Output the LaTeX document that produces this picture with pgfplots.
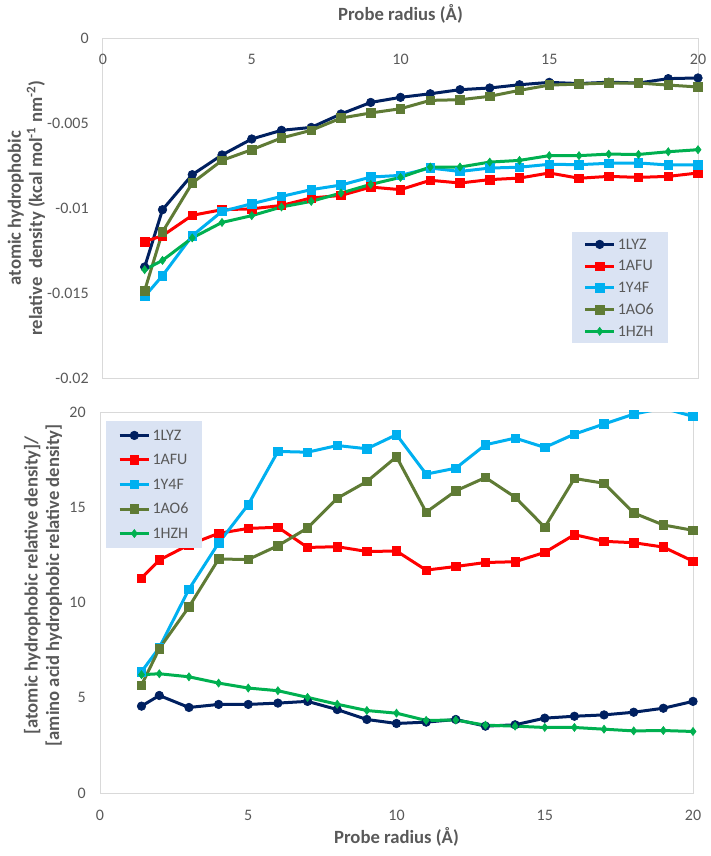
\documentclass[border=0pt]{standalone}
\usepackage{fontspec}
\setmainfont{Carlito}
\usepackage{pgfplots}
\pgfplotsset{compat=1.18}
\usepackage{pgfplotstable}

\definecolor{cLYZ}{HTML}{002060}
\definecolor{cAFU}{HTML}{FF0000}
\definecolor{cYF}{HTML}{00B0F0}
\definecolor{cAO}{HTML}{5F7B35}
\definecolor{cHZH}{HTML}{00B050}
\definecolor{txt}{HTML}{595959}
\definecolor{frame}{HTML}{D9D9D9}
\definecolor{legfill}{HTML}{DAE3F3}

\pgfplotstableread{
x LYZ AFU YF AO HZH
1.4 -0.01347 -0.01198 -0.01520 -0.01486 -0.01363
2 -0.01010 -0.01163 -0.01398 -0.01141 -0.01308
3 -0.00804 -0.01043 -0.01163 -0.00853 -0.01176
4 -0.00688 -0.01010 -0.01020 -0.00720 -0.01085
5 -0.00594 -0.01005 -0.00975 -0.00657 -0.01045
6 -0.00543 -0.00985 -0.00932 -0.00588 -0.00994
7 -0.00526 -0.00941 -0.00892 -0.00543 -0.00961
8 -0.00447 -0.00926 -0.00865 -0.00471 -0.00912
9 -0.00379 -0.00877 -0.00818 -0.00441 -0.00861
10 -0.00349 -0.00892 -0.00808 -0.00416 -0.00820
11 -0.00328 -0.00837 -0.00765 -0.00367 -0.00759
12 -0.00304 -0.00853 -0.00785 -0.00363 -0.00759
13 -0.00294 -0.00833 -0.00765 -0.00343 -0.00730
14 -0.00275 -0.00824 -0.00760 -0.00308 -0.00720
15 -0.00261 -0.00794 -0.00743 -0.00277 -0.00692
16 -0.00268 -0.00825 -0.00745 -0.00271 -0.00692
17 -0.00260 -0.00814 -0.00737 -0.00265 -0.00683
18 -0.00265 -0.00820 -0.00735 -0.00265 -0.00685
19 -0.00239 -0.00814 -0.00747 -0.00277 -0.00669
20 -0.00235 -0.00794 -0.00747 -0.00288 -0.00657
}\toptable

\pgfplotstableread{
x LYZ AFU YF AO HZH
1.4 4.56 11.28 6.37 5.66 6.21
2 5.12 12.23 7.63 7.58 6.26
3 4.49 13.03 10.70 9.77 6.10
4 4.65 13.63 13.12 12.28 5.77
5 4.65 13.89 15.14 12.26 5.51
6 4.72 13.95 17.93 12.98 5.37
7 4.81 12.89 17.89 13.91 5.02
8 4.38 12.93 18.24 15.47 4.66
9 3.86 12.68 18.07 16.35 4.33
10 3.65 12.70 18.81 17.65 4.19
11 3.72 11.70 16.74 14.74 3.81
12 3.86 11.89 17.05 15.86 3.83
13 3.51 12.10 18.28 16.56 3.56
14 3.58 12.14 18.63 15.53 3.51
15 3.93 12.63 18.14 13.95 3.44
16 4.03 13.56 18.84 16.51 3.44
17 4.10 13.21 19.37 16.26 3.35
18 4.24 13.14 19.89 14.70 3.26
19 4.45 12.91 20.20 14.07 3.28
20 4.81 12.17 19.77 13.79 3.23
}\bottable

\pgfplotsset{
  common/.style={
    scale only axis,
    xmin=0, xmax=20,
    xtick={0,5,10,15,20},
    scaled y ticks=false,
    scaled x ticks=false,
    major tick length=0pt,
    axis line style={draw=frame, line width=0.75pt},
    tick label style={font=\fontsize{12}{14}\selectfont, text=txt},
    label style={font=\fontsize{14}{16}\selectfont\bfseries, text=txt},
    yticklabel style={anchor=east, xshift=-7.25pt},
    legend cell align=left,
    legend style={draw=none, fill=legfill, font=\fontsize{12}{14}\selectfont, text=txt,
      inner xsep=9pt, inner ysep=3.5pt, row sep=5.3pt,
      nodes={inner xsep=1.5pt, inner ysep=0pt, text height=9pt, text depth=2pt}},
    legend image code/.code={\draw[mark repeat=2,mark phase=2] plot coordinates {(0pt,0pt)(11pt,0pt)(22pt,0pt)};},
    every axis plot/.append style={line width=2.25pt},
  },
  sLYZ/.style={color=cLYZ, mark=*, mark size=3.2pt, mark options={solid, line width=0.5pt}},
  sAFU/.style={color=cAFU, mark=square*, mark size=3.2pt, mark options={solid, line width=0.5pt}},
  sYF/.style={color=cYF, mark=square*, mark size=3.2pt, mark options={solid, line width=0.5pt}},
  sAO/.style={color=cAO, mark=square*, mark size=3.2pt, mark options={solid, line width=0.5pt}},
  sHZH/.style={color=cHZH, mark=diamond*, mark size=3pt, mark options={solid, line width=0.5pt}},
}

\begin{document}
\begin{tikzpicture}
\path[use as bounding box] (0,0) rectangle (532.5pt,-642pt);

\begin{axis}[common,
  at={(77.25pt,-28.5pt)}, anchor=north west,
  width=446.25pt, height=255pt,
  ymin=-0.02, ymax=0,
  ytick={-0.02,-0.015,-0.01,-0.005,0},
  yticklabels={-0.02,-0.015,-0.01,-0.005,0},
  xticklabels={0,5,10,15,20},
  xticklabel pos=upper,
  xticklabel style={anchor=north, yshift=-8.75pt},
  xlabel={Probe radius (Å)},
  xlabel style={at={(axis description cs:0.5,1)}, anchor=base, yshift=13.5pt},
  ylabel={atomic hydrophobic\\relative\ \ density (kcal mol\textsuperscript{-1} nm\textsuperscript{-2})},
  ylabel style={align=center, at={(axis description cs:-0.1286,0.5)}, anchor=center},
  legend style={at={(rel axis cs:0.787,0.429)}, anchor=north west},
]
\addplot[sLYZ] table[x=x,y=LYZ] {\toptable};
\addlegendentry{1LYZ}
\addplot[sAFU] table[x=x,y=AFU] {\toptable};
\addlegendentry{1AFU}
\addplot[sYF] table[x=x,y=YF] {\toptable};
\addlegendentry{1Y4F}
\addplot[sAO] table[x=x,y=AO] {\toptable};
\addlegendentry{1AO6}
\addplot[sHZH] table[x=x,y=HZH] {\toptable};
\addlegendentry{1HZH}
\end{axis}

\begin{axis}[common,
  at={(75pt,-309pt)}, anchor=north west,
  width=444.75pt, height=285.75pt,
  ymin=0, ymax=20,
  ytick={0,5,10,15,20},
  yticklabels={0,5,10,15,20},
  xticklabels={0,5,10,15,20},
  xticklabel style={anchor=north, yshift=-9.5pt},
  xlabel={Probe radius (Å)},
  xlabel style={at={(axis description cs:0.5,0)}, anchor=base, yshift=-37.5pt},
  ylabel={[atomic hydrophobic relative density]/\\{}[amino acid hydrophobic relative density]},
  ylabel style={align=center, at={(axis description cs:-0.0961,0.545)}, anchor=center},
  legend style={at={(rel axis cs:0.01,0.976)}, anchor=north west, row sep=7.4pt, inner ysep=5pt},
]
\addplot[sLYZ] table[x=x,y=LYZ] {\bottable};
\addlegendentry{1LYZ}
\addplot[sAFU] table[x=x,y=AFU] {\bottable};
\addlegendentry{1AFU}
\addplot[sYF] table[x=x,y=YF] {\bottable};
\addlegendentry{1Y4F}
\addplot[sAO] table[x=x,y=AO] {\bottable};
\addlegendentry{1AO6}
\addplot[sHZH] table[x=x,y=HZH] {\bottable};
\addlegendentry{1HZH}
\end{axis}
\end{tikzpicture}
\end{document}
